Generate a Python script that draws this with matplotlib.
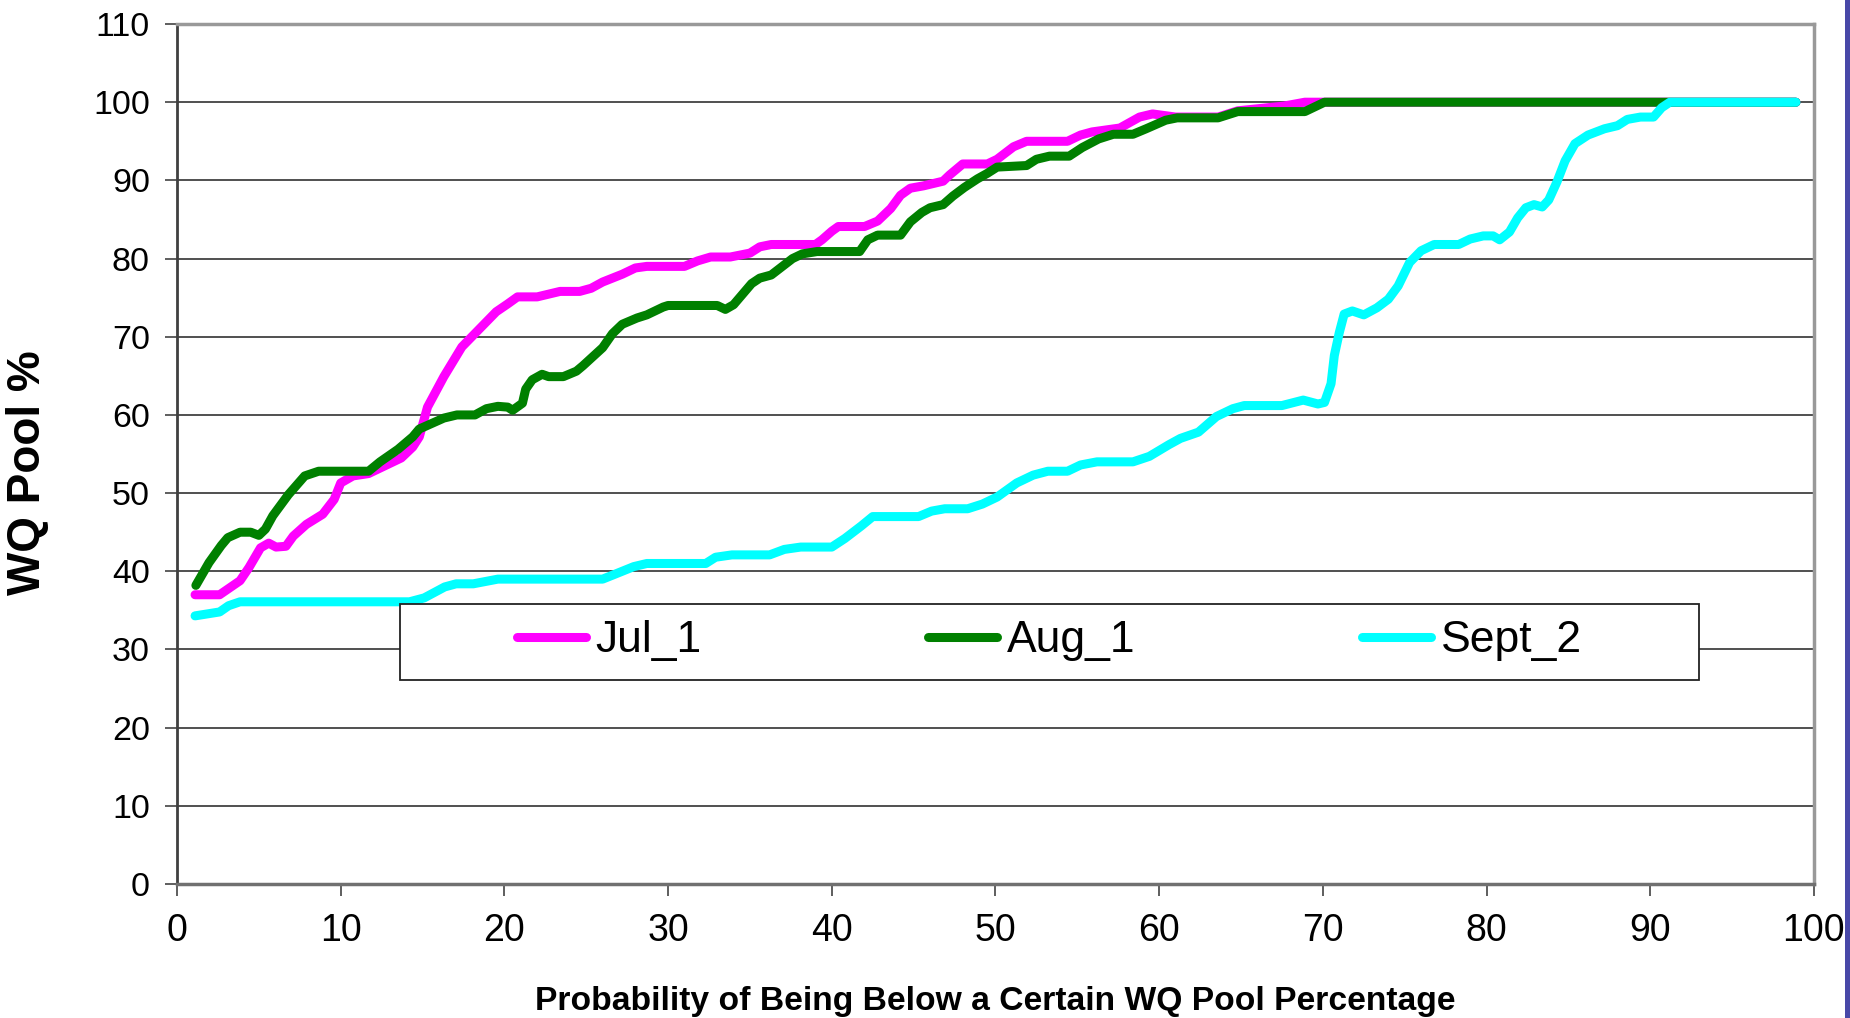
"""
WQ pool exceedance curves, Jul_1 / Aug_1 / Sept_2.
"""

import matplotlib
matplotlib.use('Agg')
import matplotlib.pyplot as plt
from matplotlib.patches import Rectangle

# data (x = probability %, y = WQ pool %)
jul_x = [1.1, 2.6, 3.85, 4.4, 5.1, 5.6, 6.05, 6.65, 7.1, 7.9, 8.9, 9.6, 10.0, 10.75,
         11.7, 12.8, 13.7, 14.4, 14.8, 15.3, 16.3, 17.4, 18.1, 19.5, 20.2, 20.8, 22.0,
         23.4, 24.6, 25.3, 26.0, 27.2, 28.0, 28.7, 31.0, 31.8, 32.6, 33.8, 35.0, 35.6,
         36.3, 39.0, 39.4, 40.0, 40.4, 42.0, 42.8, 43.6, 44.2, 44.8, 45.6, 46.8, 47.2,
         48.0, 49.5, 50.1, 51.1, 51.9, 54.4, 55.2, 55.9, 57.6, 58.8, 59.6, 61.0, 63.6,
         64.8, 67.6, 68.9, 98.9]
jul_y = [37.0, 37.0, 38.8, 40.5, 43.0, 43.6, 43.1, 43.2, 44.5, 46.0, 47.3, 49.2, 51.3, 52.2,
         52.5, 53.6, 54.5, 55.9, 57.2, 61.0, 64.9, 68.7, 70.2, 73.2, 74.2, 75.1, 75.1,
         75.8, 75.8, 76.2, 77.0, 78.0, 78.8, 79.0, 79.0, 79.7, 80.2, 80.2, 80.7, 81.5,
         81.8, 81.8, 82.4, 83.5, 84.1, 84.1, 84.8, 86.4, 88.1, 89.0, 89.3, 89.9, 90.7,
         92.1, 92.1, 92.7, 94.3, 95.0, 95.0, 95.8, 96.2, 96.7, 98.1, 98.5, 98.1, 98.1,
         98.9, 99.5, 100.0, 100.0]

aug_x = [1.15, 1.95, 2.7, 3.1, 3.85, 4.5, 5.0, 5.4, 5.85, 6.8, 7.8, 8.65, 11.7, 12.4,
         13.5, 14.4, 14.8, 16.3, 17.1, 18.2, 18.9, 19.6, 20.2, 20.5, 21.1, 21.3, 21.7,
         22.3, 22.7, 23.6, 24.4, 24.8, 26.0, 26.6, 27.2, 28.1, 28.7, 29.7, 30.0, 33.0,
         33.5, 34.0, 35.1, 35.6, 36.3, 37.6, 38.2, 39.1, 41.7, 42.2, 42.8, 44.2, 44.8,
         45.5, 46.0, 46.8, 47.4, 48.1, 48.9, 49.5, 50.1, 51.9, 52.5, 53.3, 54.5, 55.3,
         56.3, 57.2, 58.4, 59.2, 60.4, 61.1, 63.6, 64.8, 68.9, 69.6, 70.1, 98.9]
aug_y = [38.2, 41.1, 43.3, 44.3, 45.0, 45.0, 44.6, 45.4, 47.1, 49.8, 52.2, 52.8, 52.8, 54.0,
         55.6, 57.2, 58.2, 59.6, 60.0, 60.0, 60.8, 61.1, 61.0, 60.6, 61.5, 63.3, 64.5,
         65.2, 64.9, 64.9, 65.6, 66.3, 68.6, 70.4, 71.6, 72.4, 72.8, 73.8, 74.0, 74.0,
         73.5, 74.1, 76.8, 77.5, 77.9, 80.0, 80.6, 80.9, 80.9, 82.4, 83.0, 83.0, 84.7,
         85.9, 86.5, 86.9, 88.0, 89.1, 90.2, 90.9, 91.7, 91.9, 92.7, 93.1, 93.1, 94.2,
         95.3, 95.9, 95.9, 96.6, 97.7, 98.0, 98.0, 98.8, 98.8, 99.5, 100.0, 100.0]

sep_x = [1.1, 2.6, 3.15, 3.85, 14.2, 15.1, 16.35, 17.05, 18.1, 19.6, 26.0, 26.6, 27.9,
         28.7, 32.3, 32.9, 33.9, 36.2, 37.1, 38.1, 40.0, 40.8, 41.8, 42.5, 45.3, 46.1,
         46.9, 48.3, 49.2, 50.1, 51.3, 52.3, 53.2, 54.4, 55.2, 56.2, 58.4, 59.4, 60.6,
         61.3, 62.4, 63.5, 64.5, 65.2, 67.5, 68.8, 69.7, 70.1, 70.5, 70.7, 71.0, 71.3,
         71.8, 72.5, 73.3, 74.0, 74.6, 75.3, 76.0, 76.8, 78.3, 79.0, 79.8, 80.4, 80.8,
         81.4, 81.9, 82.4, 82.9, 83.4, 83.8, 84.3, 84.8, 85.4, 86.2, 87.2, 88.0, 88.6,
         89.4, 90.2, 90.7, 91.2, 98.9]
sep_y = [34.3, 34.8, 35.6, 36.1, 36.1, 36.6, 38.0, 38.4, 38.4, 39.0, 39.0, 39.5, 40.6,
         41.0, 41.0, 41.8, 42.1, 42.1, 42.8, 43.1, 43.1, 44.2, 45.8, 47.0, 47.0, 47.7,
         48.0, 48.0, 48.6, 49.5, 51.3, 52.3, 52.8, 52.8, 53.6, 54.0, 54.0, 54.7, 56.2,
         57.0, 57.8, 59.8, 60.8, 61.2, 61.2, 61.9, 61.4, 61.6, 64.0, 67.6, 70.5, 72.9,
         73.3, 72.8, 73.7, 74.8, 76.5, 79.5, 81.0, 81.8, 81.8, 82.5, 82.9, 82.9, 82.4,
         83.4, 85.2, 86.5, 86.9, 86.6, 87.5, 89.8, 92.5, 94.7, 95.8, 96.6, 97.0, 97.8,
         98.1, 98.1, 99.3, 100.0, 100.0]

series = [('Jul_1', jul_x, jul_y, '#FF00FF'),
          ('Aug_1', aug_x, aug_y, '#008000'),
          ('Sept_2', sep_x, sep_y, '#00FFFF')]

xticks = list(range(0, 101, 10))
yticks = list(range(0, 111, 10))

plt.rcParams['font.family'] = ['Liberation Sans', 'DejaVu Sans']

fig = plt.figure(figsize=(18.5, 10.18), dpi=100)
ax = fig.add_axes([0.0957, 0.1316, 0.8848, 0.8448])

for name, xs, ys, col in series:
    ax.plot(xs, ys, color=col, lw=6.5, label=name,
            solid_capstyle='round', solid_joinstyle='round', zorder=3)

ax.set_xlim(0, 100)
ax.set_ylim(0, 110)
ax.set_xticks(xticks)
ax.set_yticks(yticks)
ax.yaxis.grid(True, color='#202020', lw=1.1, zorder=1)
ax.set_axisbelow(True)

ax.tick_params(axis='x', direction='out', length=8.5, width=1.1, color='#333333',
               labelsize=27, pad=12)
ax.tick_params(axis='y', direction='out', length=8.5, width=1.1, color='#333333',
               labelsize=24.5, pad=11)

ax.spines['left'].set_color('#404040')
ax.spines['left'].set_linewidth(2)
ax.spines['bottom'].set_color('#707070')
ax.spines['bottom'].set_linewidth(2.5)
for s in ['top', 'right']:
    ax.spines[s].set_color('#999999')
    ax.spines[s].set_linewidth(2.5)

ax.set_xlabel('Probability of Being Below a Certain WQ Pool Percentage',
              fontsize=24.2, fontweight='bold')
ax.xaxis.set_label_coords(0.5, -0.118)
ax.set_ylabel('WQ Pool %', fontsize=33, fontweight='bold')
ax.yaxis.set_label_coords(-0.0776, 0.478)

# legend box (white, drawn over the lines)
box = Rectangle((0.136, 0.237), 0.794, 0.089, transform=ax.transAxes,
                facecolor='white', edgecolor='#222222', lw=1.3, zorder=4)
ax.add_patch(box)
leg = ax.legend(loc='center left', bbox_to_anchor=(0.2077, 0.283), ncol=3,
                frameon=False, fontsize=32, handlelength=1.55, handletextpad=0.22,
                columnspacing=5.1, borderpad=0, borderaxespad=0)
leg.set_zorder(5)
for line in leg.get_lines():
    line.set_linewidth(6.5)
    line.set_solid_capstyle('round')

# blue strip at the right edge of the screenshot
fig.patches.append(Rectangle((1845 / 1850, 0), 5 / 1850, 1, transform=fig.transFigure,
                             facecolor='#4848a8', edgecolor='none'))

fig.savefig('out.png', dpi=100)
